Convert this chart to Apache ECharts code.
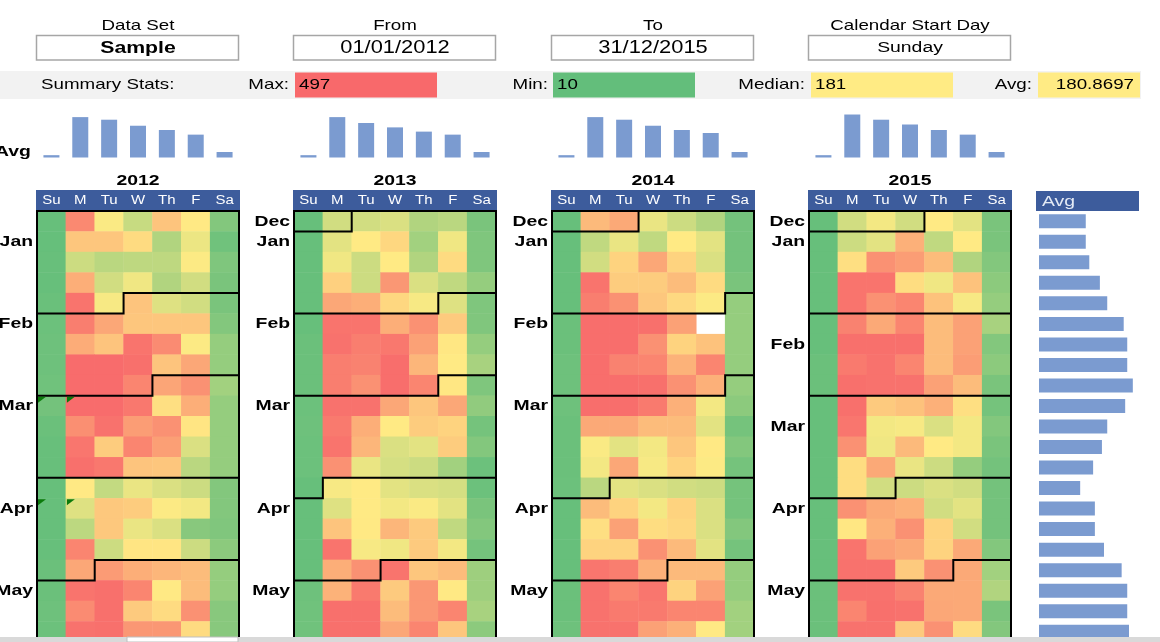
<!DOCTYPE html>
<html>
<head>
<meta charset="utf-8">
<script src="https://cdn.jsdelivr.net/npm/echarts@6/dist/echarts.min.js"></script>
<style>
html,body{margin:0;padding:0;background:#fff;}
#c{width:1160px;height:642px;}
</style>
</head>
<body>
<div id="c"></div>
<script>
// ---------------- DATA ----------------
const days = ['Su', 'M', 'Tu', 'W', 'Th', 'F', 'Sa'];
const years = [2012, 2013, 2014, 2015];

const statMax = 497;
const statMin = 10;
const statMedian = 181;
const statAvg = '180.8697';

const dataSetName = 'Sample';
const fromDate = '01/01/2012';
const toDate = '31/12/2015';
const startDay = 'Sunday';

// weekly rows (Su..Sa), 21 visible weeks per year
const vals2012 = [
  [15, 420, 175, 120, 275, 185, 45],
  [14, 270, 270, 220, 95, 160, 25],
  [16, 125, 105, 110, 110, 178, 40],
  [15, 330, 130, 165, 95, 130, 35],
  [17, 470, 172, 275, 145, 130, 35],
  [20, 445, 345, 270, 270, 270, 45],
  [22, 335, 275, 470, 415, 178, 65],
  [22, 490, 490, 480, 275, 345, 65],
  [25, 490, 490, 430, 350, 400, 80],
  [28, 490, 490, 460, 210, 330, 65],
  [18, 405, 475, 370, 400, 195, 65],
  [16, 465, 255, 430, 365, 140, 65],
  [16, 480, 460, 275, 270, 105, 65],
  [15, 185, 115, 158, 140, 125, 45],
  [15, 145, 265, 255, 178, 168, 45],
  [15, 108, 265, 158, 140, 50, 42],
  [15, 430, 125, 195, 195, 125, 55],
  [18, 345, 375, 330, 310, 295, 65],
  [18, 470, 480, 430, 185, 295, 65],
  [22, 415, 480, 260, 220, 400, 50],
  [20, 475, 480, 385, 385, 220, 50]
];
const vals2013 = [
  [15, 130, 130, 140, 95, 105, 35],
  [15, 150, 183, 230, 80, 165, 40],
  [15, 165, 125, 183, 95, 220, 40],
  [15, 245, 125, 385, 140, 112, 65],
  [15, 345, 330, 230, 172, 145, 40],
  [15, 470, 470, 330, 400, 260, 42],
  [18, 475, 445, 460, 360, 190, 65],
  [18, 445, 435, 485, 310, 183, 85],
  [18, 445, 400, 485, 430, 190, 40],
  [20, 475, 475, 345, 270, 345, 60],
  [22, 455, 330, 183, 255, 240, 30],
  [20, 470, 310, 140, 150, 255, 45],
  [20, 400, 158, 135, 125, 80, 20],
  [15, 172, 183, 150, 140, 135, 20],
  [15, 145, 183, 168, 176, 150, 35],
  [15, 275, 185, 310, 260, 112, 45],
  [15, 470, 172, 165, 260, 168, 30],
  [15, 330, 400, 470, 270, 295, 75],
  [22, 320, 455, 260, 385, 185, 75],
  [25, 480, 480, 295, 385, 430, 85],
  [25, 480, 480, 345, 430, 270, 55]
];
const vals2014 = [
  [15, 300, 340, 158, 125, 95, 28],
  [15, 112, 158, 112, 183, 150, 28],
  [15, 130, 240, 345, 240, 140, 28],
  [15, 470, 255, 255, 295, 220, 35],
  [15, 445, 400, 268, 225, 178, 65],
  [18, 485, 485, 480, 360, null, 65],
  [18, 485, 485, 400, 240, 280, 65],
  [22, 485, 435, 430, 320, 430, 65],
  [22, 485, 485, 480, 400, 325, 65],
  [22, 485, 485, 455, 325, 168, 55],
  [18, 340, 340, 295, 295, 150, 30],
  [18, 176, 150, 168, 270, 185, 45],
  [18, 168, 345, 172, 240, 178, 30],
  [20, 105, 150, 140, 130, 125, 30],
  [15, 295, 240, 168, 240, 140, 30],
  [15, 210, 360, 215, 230, 140, 45],
  [15, 240, 240, 400, 300, 150, 30],
  [15, 465, 445, 325, 300, 300, 65],
  [18, 475, 430, 465, 240, 360, 65],
  [18, 475, 455, 455, 430, 430, 80],
  [22, 475, 475, 360, 325, 185, 80]
];
const vals2015 = [
  [15, 130, 168, 130, 183, 150, 35],
  [15, 125, 150, 325, 112, 183, 35],
  [15, 210, 400, 370, 295, 95, 45],
  [15, 470, 470, 215, 165, 280, 55],
  [15, 470, 400, 430, 280, 172, 65],
  [15, 435, 340, 430, 295, 360, 85],
  [15, 480, 480, 480, 295, 360, 45],
  [18, 455, 475, 430, 295, 370, 55],
  [18, 480, 475, 475, 360, 295, 35],
  [15, 480, 260, 280, 325, 210, 30],
  [15, 465, 168, 172, 140, 168, 45],
  [15, 400, 165, 300, 183, 168, 35],
  [15, 215, 340, 158, 125, 65, 28],
  [15, 215, 130, 125, 140, 130, 28],
  [15, 400, 340, 325, 130, 150, 28],
  [15, 190, 325, 400, 240, 130, 28],
  [15, 470, 360, 340, 240, 340, 45],
  [15, 475, 475, 260, 400, 340, 80],
  [18, 475, 475, 435, 340, 340, 95],
  [18, 430, 480, 475, 345, 340, 35],
  [18, 475, 475, 260, 400, 220, 45]
];

// month tick labels per week row
const months2012 = ['', 'Jan', '', '', '', 'Feb', '', '', '', 'Mar', '', '', '', '', 'Apr', '', '', '', 'May', '', ''];
const months2013 = ['Dec', 'Jan', '', '', '', 'Feb', '', '', '', 'Mar', '', '', '', '', 'Apr', '', '', '', 'May', '', ''];
const months2014 = ['Dec', 'Jan', '', '', '', 'Feb', '', '', '', 'Mar', '', '', '', '', 'Apr', '', '', '', 'May', '', ''];
const months2015 = ['Dec', 'Jan', '', '', '', '', 'Feb', '', '', '', 'Mar', '', '', '', 'Apr', '', '', '', 'May', '', ''];

// average by weekday per year (Su..Sa)
const dowAvg2012 = [17, 295, 276, 232, 201, 167, 40];
const dowAvg2013 = [17, 295, 252, 220, 189, 167, 40];
const dowAvg2014 = [17, 295, 276, 232, 201, 179, 40];
const dowAvg2015 = [17, 314, 276, 241, 201, 167, 40];

// average per week row (right panel)
const rowAvg = [159, 159, 171, 207, 232, 288, 300, 300, 319, 293, 232, 214, 184, 140, 190, 190, 221, 281, 300, 300, 306];

// cells carrying a comment marker (2012) [col, row]
const comments2012 = [[0, 9], [1, 9], [0, 14], [1, 14]];

// ---------------- BUILD ----------------
const allVals = [vals2012, vals2013, vals2014, vals2015];
const allMonths = [months2012, months2013, months2014, months2015];
const allDow = [dowAvg2012, dowAvg2013, dowAvg2014, dowAvg2015];
const ROWS = 21;
const rowIds = Array.from({length: ROWS}, (_, i) => 'w' + i);

const FONT = '"Liberation Sans", Arial, sans-serif';
const BLUE_HEAD = '#3d5c9c';
const BAR = '#7b9bd0';
const STRETCH = 1.25;   // the source text is rendered horizontally widened

// Excel 3-colour scale (green - yellow at median - red)
const cMin = [99, 190, 123], cMid = [255, 235, 132], cMax = [248, 105, 107];
function mix(a, b, t) {
  return 'rgb(' + a.map((x, i) => Math.round(x + (b[i] - x) * t)).join(',') + ')';
}
function excelColor(v) {
  if (v <= statMedian) return mix(cMin, cMid, (v - statMin) / (statMedian - statMin));
  return mix(cMid, cMax, (v - statMedian) / (statMax - statMedian));
}
const stops = [];
for (let i = 0; i <= 200; i++) stops.push(excelColor(statMin + (statMax - statMin) * i / 200));

// layout
const gridLefts = [37, 294, 552, 809];
const GW = 202, GTOP = 211, GH = 431;

// month boundary positions (first day of each month) computed from the calendar
function monthStarts(year) {
  const jan1 = Date.UTC(year, 0, 1);
  const dow = new Date(jan1).getUTCDay();
  const start = jan1 - dow * 86400000;
  const out = [];
  for (let m = 0; m < 6; m++) {
    const d = Date.UTC(year, m, 1);
    const idx = Math.round((d - start) / 86400000);
    if (idx === 0) continue;
    const r = Math.floor(idx / 7), c = idx % 7;
    if (r < ROWS) out.push([c, r]);
  }
  return out;
}

const grids = [], xAxes = [], yAxes = [], series = [], graphics = [];

years.forEach((y, i) => {
  grids.push({left: gridLefts[i], top: GTOP, width: GW, height: GH, containLabel: false, outerBoundsMode: 'none'});
  xAxes.push({
    type: 'category', gridIndex: i, data: days, position: 'top',
    axisLine: {show: false}, axisTick: {show: false}, splitLine: {show: false}, axisLabel: {show: false}
  });
  yAxes.push({
    type: 'category', gridIndex: i, data: rowIds, inverse: true,
    axisLine: {show: false}, axisTick: {show: false}, splitLine: {show: false}, axisLabel: {show: false}
  });
});
years.forEach((y, i) => {
  grids.push({left: gridLefts[i], top: 113, width: GW, height: 44.5, containLabel: false, outerBoundsMode: 'none'});
  xAxes.push({type: 'category', gridIndex: 4 + i, data: days, show: false});
  yAxes.push({type: 'value', gridIndex: 4 + i, min: 0, max: 325, show: false});
});
grids.push({left: 1039, top: GTOP, width: 100, height: GH, containLabel: false, outerBoundsMode: 'none'});
xAxes.push({type: 'value', gridIndex: 8, min: 0, max: 340, show: false});
yAxes.push({type: 'category', gridIndex: 8, data: rowIds, inverse: true, show: false});

// heatmaps
years.forEach((y, i) => {
  const data = [];
  allVals[i].forEach((row, r) => row.forEach((v, c) => data.push([c, r, v == null ? '-' : v])));
  series.push({
    type: 'heatmap', xAxisIndex: i, yAxisIndex: i, data: data,
    itemStyle: {borderWidth: 0}, emphasis: {disabled: true}, silent: true
  });
});
// month boundaries + frame
years.forEach((y, i) => {
  series.push({
    type: 'custom', xAxisIndex: i, yAxisIndex: i, data: monthStarts(y), clip: false, silent: true, z: 5,
    renderItem: function (params, api) {
      const c = api.value(0), r = api.value(1);
      const p = api.coord([c, r]);
      const s = api.size([1, 1]);
      const cs = params.coordSys;
      const left = p[0] - s[0] / 2, top = p[1] - s[1] / 2, bottom = top + s[1];
      const pts = c > 0
        ? [[cs.x, bottom], [left, bottom], [left, top], [cs.x + cs.width, top]]
        : [[cs.x, top], [cs.x + cs.width, top]];
      return {type: 'polyline', shape: {points: pts}, style: {stroke: '#000', lineWidth: 2, fill: null}};
    }
  });
  series.push({
    type: 'custom', xAxisIndex: i, yAxisIndex: i, data: [[0, 0]], clip: false, silent: true, z: 5,
    renderItem: function (params) {
      const cs = params.coordSys;
      return {type: 'rect', shape: {x: cs.x, y: cs.y, width: cs.width, height: cs.height + 4},
        style: {stroke: '#000', lineWidth: 2, fill: null}};
    }
  });
});
// comment markers
series.push({
  type: 'custom', xAxisIndex: 0, yAxisIndex: 0, data: comments2012, silent: true, z: 6,
  renderItem: function (params, api) {
    const p = api.coord([api.value(0), api.value(1)]);
    const s = api.size([1, 1]);
    const l = p[0] - s[0] / 2 + 1, t = p[1] - s[1] / 2 + 1;
    return {type: 'polygon', shape: {points: [[l, t], [l + 8, t], [l, t + 6]]}, style: {fill: '#0b7a0b'}};
  }
});
// weekday bars
years.forEach((y, i) => {
  series.push({
    type: 'bar', xAxisIndex: 4 + i, yAxisIndex: 4 + i, data: allDow[i], barWidth: 16,
    itemStyle: {color: BAR}, silent: true
  });
});
// row avg bars
series.push({
  type: 'bar', xAxisIndex: 8, yAxisIndex: 8, data: rowAvg, barWidth: 14,
  itemStyle: {color: BAR}, silent: true
});

// --------- decorations / text ---------
function txt(t, x, y, opts) {
  opts = opts || {};
  const al = opts.align || 'center';
  return {
    type: 'text', silent: true, z: 100, x: x, y: y, scaleX: STRETCH, scaleY: 1,
    style: Object.assign({
      text: t, x: 0, y: 0, fill: '#000',
      font: (opts.weight || 'normal') + ' ' + (opts.size || 15) + 'px ' + FONT,
      textAlign: al, align: al,
      textVerticalAlign: 'middle', verticalAlign: 'middle'
    }, opts.extra || {})
  };
}
function rect(x, y, w, h, fill, stroke, lw) {
  return {type: 'rect', silent: true, z: 90, shape: {x: x, y: y, width: w, height: h},
    style: {fill: fill, stroke: stroke || null, lineWidth: lw || 0}};
}

const selLabels = ['Data Set', 'From', 'To', 'Calendar Start Day'];
const selValues = [dataSetName, fromDate, toDate, startDay];
selLabels.forEach((lab, i) => {
  const cx = gridLefts[i] + GW / 2;
  graphics.push(txt(lab, cx, 26, {size: 15}));
  graphics.push(rect(gridLefts[i] - 0.5, 35.5, GW, 24.5, '#fff', '#a6a6a6', 1.5));
  graphics.push(txt(selValues[i], cx, 48, {size: i === 0 ? 17 : (i === 3 ? 15.5 : 17.5), weight: i === 0 ? 'bold' : 'normal'}));
});

graphics.push(rect(0, 71, 1141, 28, '#f2f2f2'));
graphics.push(txt('Summary Stats:', 41, 85, {align: 'left', size: 15}));
const statBoxes = [
  {lab: 'Max:', labX: 289, x: 295, w: 142, val: String(statMax), color: excelColor(statMax), align: 'left'},
  {lab: 'Min:', labX: 548, x: 553, w: 142, val: String(statMin), color: excelColor(statMin), align: 'left'},
  {lab: 'Median:', labX: 805, x: 811, w: 142, val: String(statMedian), color: excelColor(statMedian), align: 'left'},
  {lab: 'Avg:', labX: 1032, x: 1038, w: 102, val: statAvg, color: excelColor(181), align: 'right'}
];
statBoxes.forEach(b => {
  graphics.push(txt(b.lab, b.labX, 85, {align: 'right', size: 15}));
  graphics.push(rect(b.x, 72.5, b.w, 25, b.color));
  graphics.push(txt(b.val, b.align === 'left' ? b.x + 4 : b.x + b.w - 6, 85, {align: b.align, size: 15}));
});

graphics.push(txt('Avg', -5, 152, {align: 'left', size: 15.5, weight: 'bold'}));

years.forEach((y, i) => {
  graphics.push(txt(String(y), gridLefts[i] + GW / 2, 181, {size: 15.5, weight: 'bold'}));
  graphics.push(Object.assign(rect(gridLefts[i] - 1, 190, GW + 2, 21, BLUE_HEAD), {z: -10}));
});

graphics.push(Object.assign(rect(1036, 191, 103, 20, BLUE_HEAD), {z: -10}));
graphics.push(txt('Avg', 1042, 202, {align: 'left', size: 15.5, extra: {fill: '#e4eaf5'}}));

graphics.push(rect(0, 637, 1160, 5, '#d9d9d9'));
graphics.push(rect(127, 637, 111, 5, '#ffffff', '#bfbfbf', 1));

const chart = echarts.init(document.getElementById('c'), null, {renderer: 'canvas', width: 1160, height: 642});
chart.setOption({
  animation: false,
  backgroundColor: '#ffffff',
  grid: grids,
  xAxis: xAxes,
  yAxis: yAxes,
  visualMap: {
    type: 'continuous', show: false, min: statMin, max: statMax,
    seriesIndex: [0, 1, 2, 3], inRange: {color: stops}
  },
  series: series
});

// tick labels (weekday header + month names), placed through the axes' own scales
years.forEach((y, i) => {
  days.forEach((d, c) => {
    const px = chart.convertToPixel({xAxisIndex: i}, d);
    graphics.push(txt(d, px, GTOP - 10, {size: 12, extra: {fill: '#ffffff'}}));
  });
  allMonths[i].forEach((m, r) => {
    if (!m) return;
    const py = chart.convertToPixel({yAxisIndex: i}, rowIds[r]);
    graphics.push(txt(m, gridLefts[i] - 4, py, {size: 15.5, weight: 'bold', align: 'right'}));
  });
});
chart.setOption({graphic: {elements: graphics}});
</script>
</body>
</html>
